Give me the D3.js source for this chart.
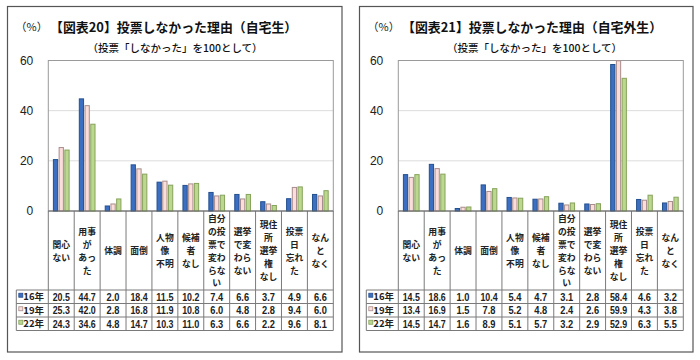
<!DOCTYPE html>
<html><head><meta charset="utf-8">
<script src="https://cdn.jsdelivr.net/npm/d3@7"></script>
<style>
body{margin:0;background:#fff;}
svg{display:block;font-family:"Noto Sans CJK JP","Noto Sans",sans-serif;}
</style></head>
<body>
<svg id="c" width="700" height="360"></svg>
<script>
const categories = ["関心|ない","用事|が|あっ|た","体調","面倒","人物|像|不明","候補|者|なし","自分|の投|票で|変わ|らな|い","選挙|で変|わら|ない","現住|所|選挙|権|なし","投票|日|忘れ|た","なん|と|なく"];
const seriesNames = ["16年","19年","22年"];
const yTicks = [0,20,40,60];
// 自宅生
const home16 = [20.5,44.7,2.0,18.4,11.5,10.2,7.4,6.6,3.7,4.9,6.6];
const home19 = [25.3,42.0,2.8,16.8,11.9,10.8,6.0,4.8,2.8,9.4,6.0];
const home22 = [24.3,34.6,4.8,14.7,10.3,11.0,6.3,6.6,2.2,9.6,8.1];
// 自宅外生
const away16 = [14.5,18.6,1.0,10.4,5.4,4.7,3.1,2.8,58.4,4.6,3.2];
const away19 = [13.4,16.9,1.5,7.8,5.2,4.8,2.4,2.6,59.9,4.3,3.8];
const away22 = [14.5,14.7,1.6,8.9,5.1,5.7,3.2,2.9,52.9,6.3,5.5];
const titles = ["【図表20】投票しなかった理由（自宅生）","【図表21】投票しなかった理由（自宅外生）"];
const subtitle = "（投票「しなかった」を100として）";

const fills = ["#3c6fc2","#fbdedb","#bcd88f"];
const strokes = ["#24508f","#a78c8c","#86a35c"];

const svg = d3.select("#c");

function panel(cfg, data, title){
  const g = svg.append("g");
  g.append("rect").attr("x",cfg.fx0).attr("y",6.5).attr("width",cfg.fx1-cfg.fx0).attr("height",345.5)
    .attr("fill","none").attr("stroke","#555").attr("stroke-width",1.2);
  const x = d3.scaleBand().domain(categories).range([cfg.px0,cfg.px1]);
  const xi = d3.scaleBand().domain(seriesNames).range([4.6,x.bandwidth()-4.6]).paddingInner(0.08);
  const y = d3.scaleLinear().domain([0,60]).range([211,60.5]);

  g.append("text").attr("x",cfg.fx0+8).attr("y",31).attr("font-size",11).attr("fill","#222").text("（%）");
  g.append("text").attr("x",cfg.tx).attr("y",32).attr("font-size",12.9).attr("font-weight",700).attr("fill","#111").text(title);
  g.append("text").attr("x",cfg.sx).attr("y",52).attr("text-anchor","middle").attr("font-size",10.5).attr("font-weight",500).attr("fill","#111").text(subtitle);

  g.selectAll(".grid").data([20,40]).join("line")
    .attr("x1",cfg.px0).attr("x2",cfg.px1).attr("y1",d=>y(d)).attr("y2",d=>y(d))
    .attr("stroke","#dcdcdc").attr("stroke-width",1);
  g.append("rect").attr("x",cfg.px0).attr("y",y(60)).attr("width",cfg.px1-cfg.px0).attr("height",y(0)-y(60))
    .attr("fill","none").attr("stroke","#9a9a9a").attr("stroke-width",1);

  const ax = g.append("g").attr("transform",`translate(${cfg.px0-15},0)`)
    .call(d3.axisLeft(y).tickValues(yTicks).tickSize(0).tickPadding(0));
  ax.select(".domain").remove();
  ax.selectAll("text").attr("font-size",12).attr("font-weight",500).attr("fill","#222")
    .attr("font-family","'Liberation Sans','Noto Sans',sans-serif");

  data.forEach((vals,si)=>{
    g.selectAll(".b"+si).data(vals).join("rect")
      .attr("x",(d,i)=>x(categories[i])+xi(seriesNames[si])+0.5)
      .attr("y",d=>y(d))
      .attr("width",xi.bandwidth()-1)
      .attr("height",d=>y(0)-y(d))
      .attr("fill",fills[si]).attr("stroke",strokes[si]).attr("stroke-width",1);
  });

  const rowTop = 290, rowBot = 330.5;
  const ry = d3.scaleBand().domain(seriesNames).range([rowTop,rowBot]);
  const lc = "#7a7a7a";
  const bounds = categories.map(c=>x(c)).concat([cfg.px1]);
  g.selectAll(".vl").data(bounds).join("line")
    .attr("x1",d=>d).attr("x2",d=>d).attr("y1",y(0)).attr("y2",rowBot)
    .attr("stroke",lc).attr("stroke-width",1);
  g.append("line").attr("x1",cfg.px0-32).attr("x2",cfg.px0-32).attr("y1",rowTop).attr("y2",rowBot).attr("stroke",lc);
  [rowTop, rowTop+ry.bandwidth(), rowTop+2*ry.bandwidth(), rowBot].forEach(yy=>{
    g.append("line").attr("x1",cfg.px0-32).attr("x2",cfg.px1).attr("y1",yy).attr("y2",yy).attr("stroke",lc);
  });
  g.append("line").attr("x1",cfg.px0).attr("x2",cfg.px1).attr("y1",y(0)).attr("y2",y(0)).attr("stroke","#666");

  categories.forEach(c=>{
    const lines = c.split("|");
    const lh = 12.9;
    const cy = 251 - (lines.length-1)*lh/2;
    const t = g.append("text").attr("text-anchor","middle").attr("font-size",8.8).attr("font-weight",700).attr("fill","#222");
    lines.forEach((l,k)=>{
      t.append("tspan").attr("x",x(c)+x.bandwidth()/2).attr("y",cy+k*lh+3.2).text(l);
    });
  });

  seriesNames.forEach((s,si)=>{
    const yy = ry(s)+ry.bandwidth()/2;
    g.append("rect").attr("x",cfg.px0-29.5).attr("y",yy-3.5).attr("width",4).attr("height",4)
      .attr("fill",fills[si]).attr("stroke",strokes[si]).attr("stroke-width",0.8);
    g.append("text").attr("x",cfg.px0-25).attr("y",yy+3.5).attr("font-size",9.5).attr("font-weight",700).attr("fill","#222").text(s);
  });
  data.forEach((vals,si)=>{
    const yy = ry(seriesNames[si])+ry.bandwidth()/2;
    g.selectAll(".v"+si).data(vals).join("text")
      .attr("x",(d,i)=>x(categories[i])+x.bandwidth()/2)
      .attr("y",yy+4).attr("text-anchor","middle").attr("font-size",11.2).attr("font-weight",700)
      .attr("font-family","'Liberation Sans',sans-serif")
      .attr("fill","#222")
      .attr("textLength",d=>d3.format(".1f")(d).length*4.3)
      .attr("lengthAdjust","spacingAndGlyphs")
      .text(d=>d3.format(".1f")(d));
  });
}

panel({fx0:7.5,fx1:342,px0:48.3,px1:333.3,tx:50,sx:175}, [home16,home19,home22], titles[0]);
panel({fx0:359.5,fx1:693,px0:398.3,px1:683.3,tx:402,sx:534.5}, [away16,away19,away22], titles[1]);
</script>
</body></html>
